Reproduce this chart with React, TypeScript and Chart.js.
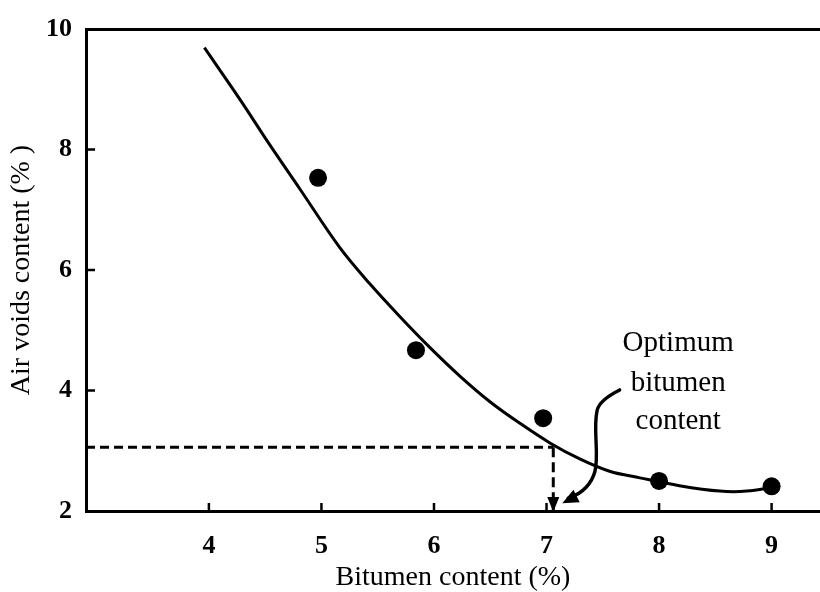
import React, { useEffect, useRef } from "react";
import { Chart, registerables } from "chart.js";

Chart.register(...registerables);

// ---- data ----
const xTicks = [4, 5, 6, 7, 8, 9];
const yTickStep = 2;
const xMin = 2.908;
const xMax = 9.43;
const yMin = 2;
const yMax = 10;

const bitumen = [4.97, 5.84, 6.97, 8.0, 9.0];
const airVoids = [7.53, 4.67, 3.54, 2.5, 2.41];

const curveX = [3.96, 4.28, 4.54, 4.81, 5.16, 5.43, 5.7, 5.96, 6.23, 6.5, 6.76, 7.03, 7.3, 7.56, 7.83, 8.18, 8.54, 8.78, 9.03];
const curveY = [9.69, 8.82, 8.08, 7.34, 6.38, 5.77, 5.22, 4.72, 4.24, 3.81, 3.46, 3.13, 2.86, 2.66, 2.55, 2.42, 2.33, 2.33, 2.4];

const optimumX = 7.06;
const optimumY = 3.06;

const noteLines = ["Optimum", "bitumen", "content"];
const noteX = 8.17;
const noteY = [4.79, 4.12, 3.48];
const arrowPathX = [7.65, 7.47, 7.43, 7.45, 7.41, 7.29, 7.14];
const arrowPathY = [4.01, 3.84, 3.51, 2.8, 2.51, 2.27, 2.13];

const xTitle = "Bitumen content (%)";
const yTitle = "Air voids content (% )";

const SERIF = "'Liberation Serif', 'DejaVu Serif', serif";

function arrowHead(ctx: CanvasRenderingContext2D, fx: number, fy: number, tx: number, ty: number, len: number, half: number) {
  const a = Math.atan2(ty - fy, tx - fx);
  ctx.beginPath();
  ctx.moveTo(tx, ty);
  ctx.lineTo(tx - len * Math.cos(a) + half * Math.sin(a), ty - len * Math.sin(a) - half * Math.cos(a));
  ctx.lineTo(tx - len * Math.cos(a) - half * Math.sin(a), ty - len * Math.sin(a) + half * Math.cos(a));
  ctx.closePath();
  ctx.fill();
}

const decorPlugin = {
  id: "decor",
  afterDatasetsDraw(chart: any) {
    const ctx: CanvasRenderingContext2D = chart.ctx;
    const xs = chart.scales.x;
    const ys = chart.scales.y;
    const area = chart.chartArea;
    ctx.save();
    ctx.strokeStyle = "#000";
    ctx.fillStyle = "#000";
    ctx.lineWidth = 2.5;
    // inward ticks
    xTicks.forEach((v) => {
      const px = xs.getPixelForValue(v);
      ctx.beginPath();
      ctx.moveTo(px, area.bottom);
      ctx.lineTo(px, area.bottom - 8);
      ctx.stroke();
    });
    for (let v = yMin + yTickStep; v < yMax; v += yTickStep) {
      const py = ys.getPixelForValue(v);
      ctx.beginPath();
      ctx.moveTo(area.left, py);
      ctx.lineTo(area.left + 9, py);
      ctx.stroke();
    }
    // arrow head of dashed vertical line
    const ox = xs.getPixelForValue(optimumX);
    const oy = ys.getPixelForValue(yMin);
    arrowHead(ctx, ox, oy - 30, ox, oy + 1, 15, 6);

    // curvy annotation arrow
    const pts = arrowPathX.map((x, i) => [xs.getPixelForValue(x), ys.getPixelForValue(arrowPathY[i])]);
    ctx.lineWidth = 3.4;
    ctx.lineCap = "round";
    ctx.lineJoin = "round";
    ctx.beginPath();
    ctx.moveTo(pts[0][0], pts[0][1]);
    for (let i = 1; i < pts.length - 2; i++) {
      const mx = (pts[i][0] + pts[i + 1][0]) / 2;
      const my = (pts[i][1] + pts[i + 1][1]) / 2;
      ctx.quadraticCurveTo(pts[i][0], pts[i][1], mx, my);
    }
    const n = pts.length;
    ctx.quadraticCurveTo(pts[n - 2][0], pts[n - 2][1], pts[n - 1][0] + 6, pts[n - 1][1] - 5);
    ctx.stroke();
    arrowHead(ctx, pts[n - 2][0], pts[n - 2][1], pts[n - 1][0], pts[n - 1][1], 16, 7);

    // note text
    ctx.font = `29px ${SERIF}`;
    ctx.textAlign = "center";
    ctx.textBaseline = "middle";
    noteLines.forEach((t, i) => {
      ctx.fillText(t, xs.getPixelForValue(noteX), ys.getPixelForValue(noteY[i]));
    });
    ctx.restore();
  },
};

const noHPad = (s: any) => {
  s.paddingLeft = 0;
  s.paddingRight = 0;
};

export default function App() {
  const ref = useRef<HTMLCanvasElement>(null);
  useEffect(() => {
    if (!ref.current) return;
    const chart = new Chart(ref.current, {
      type: "scatter",
      data: {
        datasets: [
          {
            type: "line",
            data: curveX.map((x, i) => ({ x, y: curveY[i] })),
            borderColor: "#000",
            borderWidth: 3,
            pointRadius: 0,
            tension: 0.35,
            fill: false,
            clip: false as any,
          } as any,
          {
            type: "line",
            data: [
              { x: xMin, y: optimumY },
              { x: optimumX, y: optimumY },
            ],
            borderColor: "#000",
            borderWidth: 3,
            borderDash: [9, 5],
            pointRadius: 0,
            fill: false,
            clip: false as any,
          } as any,
          {
            type: "line",
            data: [
              { x: optimumX, y: optimumY },
              { x: optimumX, y: yMin },
            ],
            borderColor: "#000",
            borderWidth: 3,
            borderDash: [10, 5],
            pointRadius: 0,
            fill: false,
            clip: false as any,
          } as any,
          {
            type: "scatter",
            data: bitumen.map((x, i) => ({ x, y: airVoids[i] })),
            backgroundColor: "#000",
            borderColor: "#000",
            pointRadius: 9,
            pointBorderWidth: 0,
          },
        ],
      },
      options: {
        animation: false,
        responsive: true,
        maintainAspectRatio: false,
        layout: { autoPadding: false, padding: { top: 29, right: 0, left: 0, bottom: 0 } },
        plugins: { legend: { display: false }, tooltip: { enabled: false } },
        scales: {
          x: {
            type: "linear",
            position: "bottom",
            min: xMin,
            max: xMax,
            afterBuildTicks: (s: any) => {
              s.ticks = xTicks.map((v) => ({ value: v }));
            },
            afterFit: (s: any) => {
              s.height = 81;
              noHPad(s);
            },
            grid: { display: true, drawOnChartArea: false, drawTicks: false },
            border: { display: true, color: "#000", width: 3 },
            ticks: { color: "#000", padding: 20, font: { family: SERIF, size: 26, weight: "bold" } },
            title: {
              display: true,
              text: xTitle,
              color: "#000",
              padding: { top: 0, bottom: 0 },
              font: { family: SERIF, size: 28, lineHeight: 1.0 },
            },
          },
          x2: {
            type: "linear",
            position: "top",
            min: xMin,
            max: xMax,
            afterBuildTicks: (s: any) => {
              s.ticks = xTicks.map((v) => ({ value: v }));
            },
            afterFit: (s: any) => {
              s.height = 0;
              noHPad(s);
            },
            grid: { display: true, drawOnChartArea: false, drawTicks: false },
            border: { display: true, color: "#000", width: 3 },
            ticks: { display: false },
          },
          y: {
            type: "linear",
            position: "left",
            min: yMin,
            max: yMax,
            afterFit: (s: any) => {
              s.width = 86;
              s.paddingTop = 0;
              s.paddingBottom = 0;
            },
            grid: { display: true, drawOnChartArea: false, drawTicks: false },
            border: { display: true, color: "#000", width: 3 },
            ticks: { stepSize: yTickStep, color: "#000", padding: 14, font: { family: SERIF, size: 26, weight: "bold" } },
            title: {
              display: true,
              text: yTitle,
              color: "#000",
              padding: { top: 8, bottom: 0 },
              font: { family: SERIF, size: 28, lineHeight: 1.0 },
            },
          },
        },
      } as any,
      plugins: [decorPlugin],
    });
    return () => chart.destroy();
  }, []);
  return (
    <div style={{ position: "absolute", left: 0, top: 0, width: 820, height: 592, background: "#fff" }}>
      <canvas ref={ref} />
    </div>
  );
}
